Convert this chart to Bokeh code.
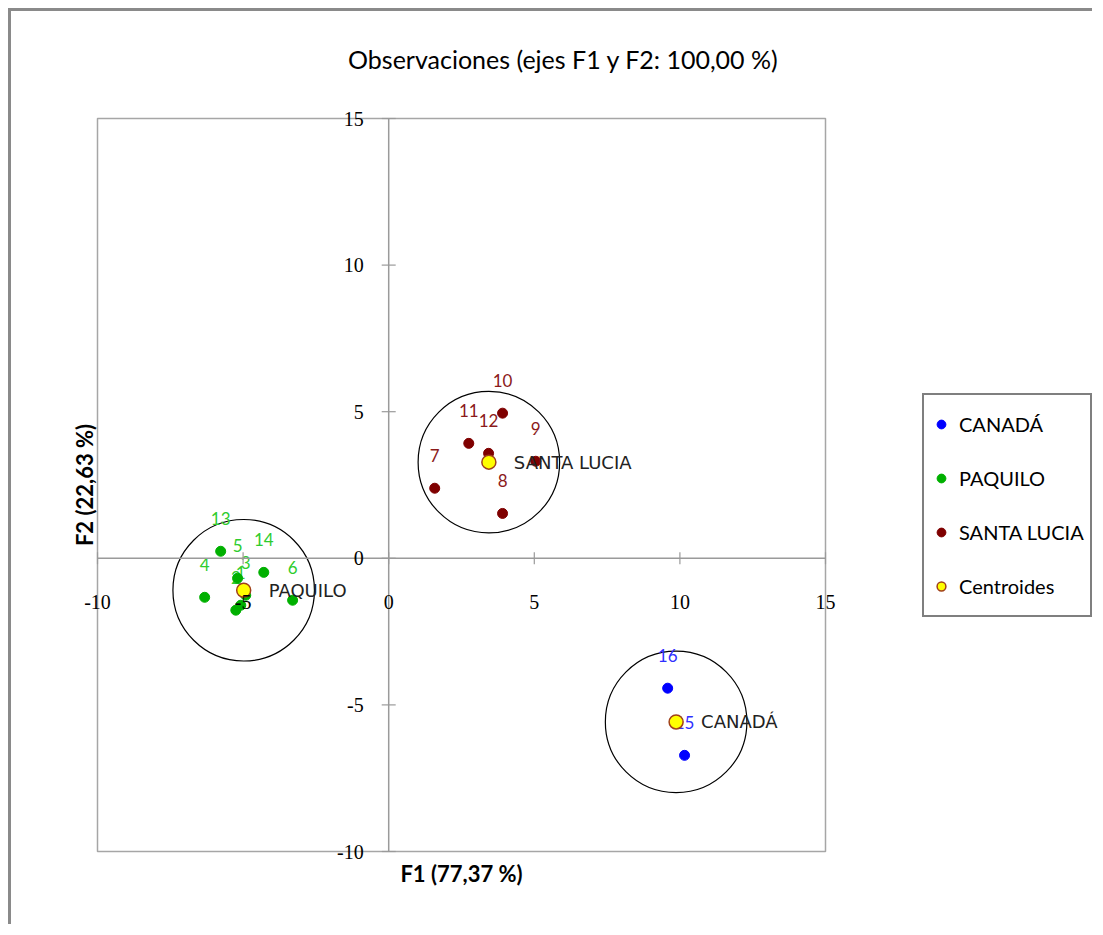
import math
from bokeh.plotting import figure
from bokeh.models import Range1d, Legend, LegendItem, FixedTicker
from bokeh.core.properties import value
from bokeh.embed import file_html
from bokeh.resources import INLINE

# ---------------- data ----------------
canada_ids = ["15", "16"]
canada_f1 = [10.16, 9.58]
canada_f2 = [-6.72, -4.43]

paquilo_ids = ["1", "2", "3", "4", "5", "6", "13", "14"]
paquilo_f1 = [-5.08, -5.25, -4.91, -6.32, -5.19, -3.30, -5.77, -4.29]
paquilo_f2 = [-1.60, -1.77, -1.26, -1.33, -0.68, -1.43, 0.24, -0.48]

santa_ids = ["7", "8", "9", "10", "11", "12"]
santa_f1 = [1.58, 3.91, 5.05, 3.91, 2.75, 3.43]
santa_f2 = [2.39, 1.53, 3.31, 4.95, 3.92, 3.58]

centroid_names = ["CANADÁ", "PAQUILO", "SANTA LUCIA"]
centroid_f1 = [9.87, -4.98, 3.44]
centroid_f2 = [-5.58, -1.09, 3.28]
circle_radius = [2.43, 2.43, 2.43]

ticks = [-10, -5, 0, 5, 10, 15]
tick_labels = ["-10", "-5", "0", "5", "10", "15"]

title_text = "Observaciones (ejes F1 y F2: 100,00 %)"
x_title = "F1 (77,37 %)"
y_title = "F2 (22,63 %)"

# ---------------- layout sizes (pixels) ----------------
W, H = 1084, 916
BORDER_L, BORDER_T, BORDER_B = 86, 107, 76
AREA_W = 728                      # width of the plotting box (-10..15)
FRAME_W = W - BORDER_L            # frame extends to the right edge (legend lives there)
x_lo, x_hi = ticks[0], ticks[-1]
y_lo, y_hi = ticks[0], ticks[-1]
x_view_hi = x_lo + FRAME_W * (x_hi - x_lo) / AREA_W

p = figure(width=W, height=H,
           x_range=Range1d(x_lo, x_view_hi), y_range=Range1d(y_lo, y_hi),
           output_backend="svg", toolbar_location=None, x_axis_location=None,
           min_border_left=BORDER_L, min_border_right=0,
           min_border_top=BORDER_T, min_border_bottom=BORDER_B)
p.styles = {"border-left": "3px solid #8a8a8a", "border-top": "3px solid #8a8a8a",
            "margin-left": "8px", "margin-top": "8px"}
p.grid.visible = False
p.outline_line_color = None
p.background_fill_color = "white"
p.border_fill_color = "white"

ax = p.yaxis[0]
ax.ticker = FixedTicker(ticks=[])
ax.axis_line_color = None
ax.major_tick_line_color = None
ax.minor_tick_line_color = None
ax.major_label_text_font_size = "0px"
ax.axis_label = y_title
ax.axis_label_text_font = "Lato"
ax.axis_label_text_font_size = "22px"
ax.axis_label_text_font_style = "bold"
ax.axis_label_text_color = "black"
ax.major_label_standoff = 0
ax.major_tick_out = 0
ax.major_tick_in = 0
ax.axis_label_standoff = 0

box_col = "#a6a6a6"
axis_col = "#9a9a9a"
# plotting box
p.quad(left=[x_lo], right=[x_hi], bottom=[y_lo], top=[y_hi],
       fill_color=None, line_color=box_col, line_width=1.5, level="overlay")
# axes crossing at the origin
p.segment(x0=[x_lo, 0], y0=[0, y_lo], x1=[x_hi, 0], y1=[0, y_hi],
          line_color=axis_col, line_width=1.5, level="overlay")

# tick marks
p.scatter(x=[0] * len(ticks), y=ticks, marker="dash", size=14, line_color=axis_col,
          line_width=1.2, level="overlay")
p.scatter(x=ticks, y=[0] * len(ticks), marker="dash", angle=math.pi / 2, size=12,
          line_color=axis_col, line_width=1.2, level="overlay")

# tick labels
p.text(x=[0] * len(ticks), y=ticks, text=tick_labels, text_font=value("Liberation Serif"),
       text_font_size="20px", text_color="black", text_align="right",
       text_baseline="middle", x_offset=-25, level="overlay")
p.text(x=ticks, y=[0] * len(ticks), text=tick_labels, text_font=value("Liberation Serif"),
       text_font_size="20px", text_color="black", text_align="center",
       text_baseline="middle", y_offset=44, level="overlay")

# chart title (centred over the whole chart area)
p.text(x=[(x_lo + x_hi) / 2], y=[y_hi], text=[title_text], text_font=value("Lato"),
       text_font_size="25px", text_color="black", text_align="center",
       text_baseline="middle", x_offset=102, y_offset=-60, level="overlay")

# x-axis title, centred under the plotting box
p.text(x=[(x_lo + x_hi) / 2], y=[y_lo], text=[x_title], text_font=value("Lato"),
       text_font_size="22px", text_font_style="bold", text_color="black",
       text_align="center", text_baseline="middle", y_offset=22, level="overlay")

# circles around groups
p.circle(x=centroid_f1, y=centroid_f2, radius=circle_radius, fill_color=None,
         line_color="black", line_width=1.2)

# point labels
lab_kw = dict(text_font=value("Lato"), text_font_size="17px", text_align="center",
              text_baseline="middle", y_offset=-33)
p.text(x=canada_f1, y=canada_f2, text=canada_ids, text_color="#2f2fff", **lab_kw)
p.text(x=paquilo_f1, y=paquilo_f2, text=paquilo_ids, text_color="#2ecc2e", **lab_kw)
p.text(x=santa_f1, y=santa_f2, text=santa_ids, text_color="#8b1a1a", **lab_kw)

# points
r_can = p.scatter(x=canada_f1, y=canada_f2, size=10, fill_color="#0000ff", line_color="#0000ff")
r_paq = p.scatter(x=paquilo_f1, y=paquilo_f2, size=10, fill_color="#00b000", line_color="#00b000")
r_san = p.scatter(x=santa_f1, y=santa_f2, size=10, fill_color="#7f0000", line_color="#7f0000")
r_cen = p.scatter(x=centroid_f1, y=centroid_f2, size=14, fill_color="#ffff00",
                  line_color="#a0401a", line_width=1.5)

# centroid names
p.text(x=centroid_f1, y=centroid_f2, text=centroid_names, text_font=value("DejaVu Sans"),
       text_font_size="18px", text_color="#222222", text_align="left",
       text_baseline="middle", x_offset=25)

legend = Legend(items=[LegendItem(label="CANADÁ", renderers=[r_can]),
                       LegendItem(label="PAQUILO", renderers=[r_paq]),
                       LegendItem(label="SANTA LUCIA", renderers=[r_san]),
                       LegendItem(label="Centroides", renderers=[r_cen])],
                location=(825, 234), margin=0, padding=6, spacing=8,
                glyph_width=22, glyph_height=46, label_height=46, label_standoff=7,
                label_text_font="Lato", label_text_font_size="20px",
                label_text_color="black",
                border_line_color="black", border_line_width=2,
                background_fill_color="white", background_fill_alpha=1.0)
p.add_layout(legend)

open("out.html", "w").write(file_html(p, INLINE))
